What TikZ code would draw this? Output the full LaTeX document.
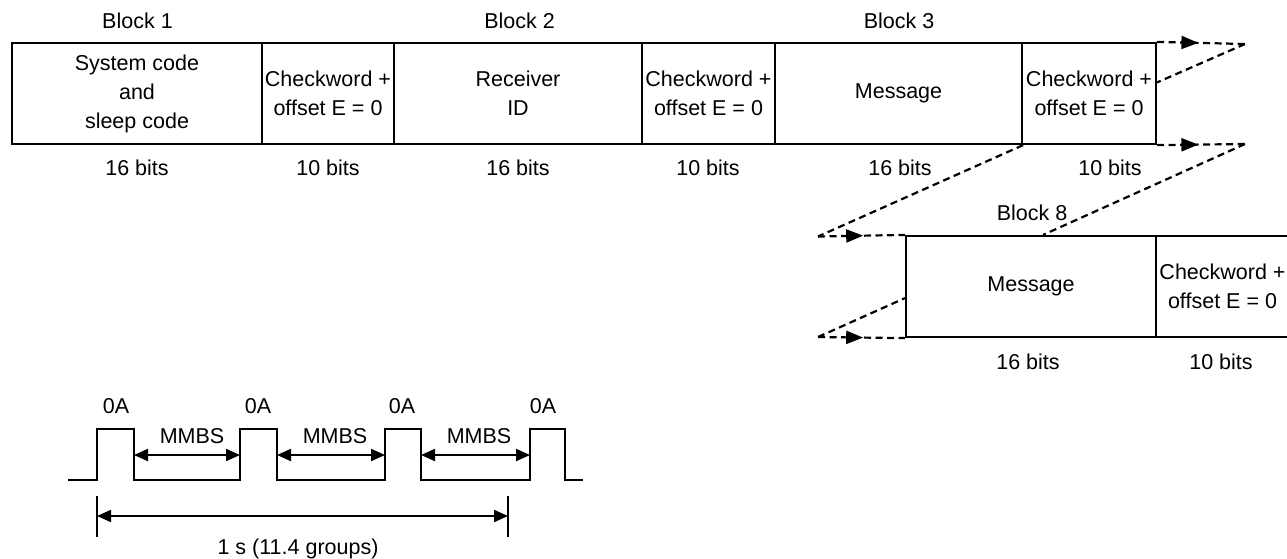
\documentclass[tikz,border=0pt]{standalone}
\usepackage{fontspec}
\setmainfont{Liberation Sans}
\usetikzlibrary{arrows.meta,decorations.markings,calc}
\newcommand\lblfont{\fontsize{21.5}{29}\selectfont}
\begin{document}
\begin{tikzpicture}[x=1pt,y=-1pt,
  box/.style={draw,line width=2.2pt,inner sep=0pt,align=center,font=\lblfont,minimum height=101pt},
  lbl/.style={font=\lblfont,inner sep=0pt,anchor=base},
  dsh/.style={line width=2.2pt,dash pattern=on 7pt off 4.5pt},
  midarrow/.style={postaction={decorate},decoration={markings,mark=at position #1 with {\pgfsetdash{}{0pt}\arrow{Triangle[length=17pt,width=13pt]}}}},
  dimline/.style={line width=2pt,{Triangle[length=14pt,width=12pt]}-{Triangle[length=14pt,width=12pt]}},
  sig/.style={line width=2pt},
  tick/.style={line width=1.8pt}
]
\useasboundingbox (0,0) rectangle (1287,558);

% top row
\node[box,minimum width=250pt] (sys) at (137,93.5) {System code\\and\\sleep code};
\node[box,minimum width=132pt] (ck1) at (328,93.5) {Checkword +\\offset E = 0};
\node[box,minimum width=248pt] (rid) at (518,93.5) {Receiver\\ID};
\node[box,minimum width=133pt] (ck2) at (708.5,93.5) {Checkword +\\offset E = 0};
\node[box,minimum width=247pt] (msg) at (898.5,93.5) {Message};
\node[box,minimum width=134pt] (ck3) at (1089,93.5) {Checkword +\\offset E = 0};

\node[lbl] (b1) at (137.5,28) {Block 1};
\node[lbl] (b2) at (519.5,28) {Block 2};
\node[lbl] (b3) at (899,28) {Block 3};

\node[lbl] (n1) at (137,175) {16 bits};
\node[lbl] (n2) at (328,175) {10 bits};
\node[lbl] (n3) at (518,175) {16 bits};
\node[lbl] (n4) at (708,175) {10 bits};
\node[lbl] (n5) at (900,175) {16 bits};
\node[lbl] (n6) at (1110,175) {10 bits};

% block 8
\node[box,minimum width=250pt] (msg8) at (1031,286.5) {Message};
\node[box,minimum width=133pt] (ck8) at (1222.5,286.5) {Checkword +\\offset E = 0};
\node[lbl] (b8) at (1032,220) {Block 8};
\node[lbl] (n7) at (1028,369) {16 bits};
\node[lbl] (n8) at (1221,369) {10 bits};

% continuation connectors
\coordinate (t1) at (1245,44);
\coordinate (t2) at (1245,144);
\coordinate (l1) at (818,236.5);
\coordinate (l2) at (818,337);
\draw[dsh,midarrow=0.47] (ck3.north east) -- (t1);
\draw[dsh,midarrow=0.47] (ck3.south east) -- (t2);
\draw[dsh] (t1) -- ($(ck3.north east)+(0,40.5)$);
\draw[dsh] (t2) -- ($(msg8.north)+(12,0)$);
\draw[dsh] (msg.south east) -- (l1);
\draw[dsh,midarrow=0.52] (l1) -- (msg8.north west);
\draw[dsh,midarrow=0.52] (l2) -- (msg8.south west);
\draw[dsh] (l2) -- ($(msg8.south west)+(0,-40)$);

% waveform
\draw[sig] (68,480) -- (97,480) -- (97,429) -- (134,429) -- (134,480) -- (240,480) -- (240,429) -- (277,429) -- (277,480)
  -- (385,480) -- (385,429) -- (421,429) -- (421,480) -- (530,480) -- (530,429) -- (565,429) -- (565,480) -- (583,480);
\coordinate (f1) at (134,455);
\coordinate (r2) at (240,455);
\coordinate (f2) at (277,455);
\coordinate (r3) at (385,455);
\coordinate (f3) at (421,455);
\coordinate (r4) at (530,455);
\draw[dimline] (f1) -- (r2);
\draw[dimline] (f2) -- (r3);
\draw[dimline] (f3) -- (r4);
\node[lbl] (m1) at (192,443) {MMBS};
\node[lbl] (m2) at (335,443) {MMBS};
\node[lbl] (m3) at (479,443) {MMBS};
\node[lbl] (a1) at (116,413) {0A};
\node[lbl] (a2) at (258,413) {0A};
\node[lbl] (a3) at (402,413) {0A};
\node[lbl] (a4) at (543,413) {0A};

% 1 s dimension
\coordinate (d1t) at (97,496);
\coordinate (d1b) at (97,537);
\coordinate (d2t) at (508,496);
\coordinate (d2b) at (508,537);
\draw[tick] (d1t) -- (d1b);
\draw[tick] (d2t) -- (d2b);
\coordinate (s1) at (97,516);
\coordinate (s2) at (508,516);
\draw[dimline] (s1) -- (s2);
\node[lbl] (sec) at (298,554) {1 s (11.4 groups)};
\end{tikzpicture}
\end{document}
